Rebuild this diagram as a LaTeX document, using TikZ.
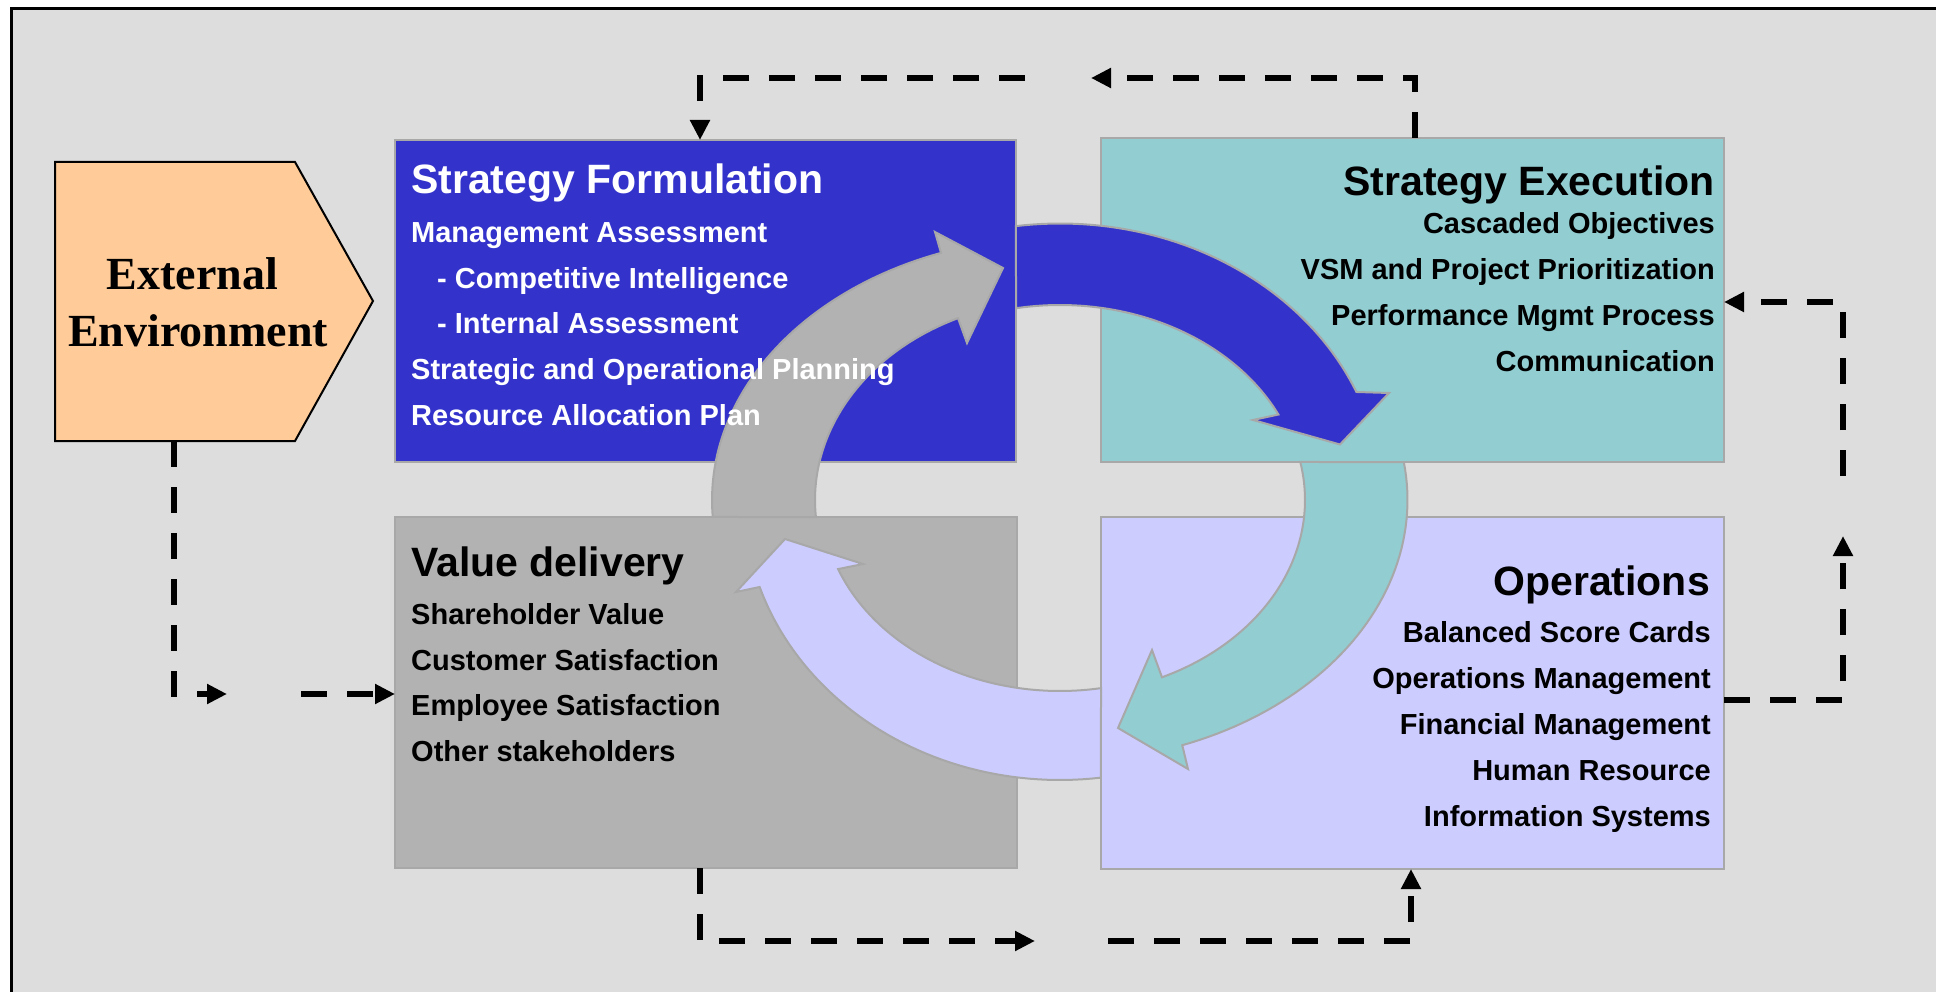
\documentclass[tikz,border=0pt]{standalone}
\usepackage{fontspec}
\setmainfont{Liberation Sans}
\newfontfamily\serifbold{Liberation Serif}
\usetikzlibrary{arrows.meta}
\definecolor{bgc}{RGB}{221,221,221}
\definecolor{peach}{RGB}{255,204,153}
\definecolor{sfblue}{RGB}{51,51,204}
\definecolor{seteal}{RGB}{146,205,209}
\definecolor{vdgrey}{RGB}{178,178,178}
\definecolor{oplav}{RGB}{204,204,255}
\definecolor{edgegrey}{RGB}{168,168,168}
\begin{document}
\begin{tikzpicture}[x=1pt,y=-1pt,
  quad/.style={draw=edgegrey, line width=2pt, rectangle, inner sep=0pt, outer sep=0pt, anchor=north west},
  ttl/.style={font=\fontsize{41}{41}\selectfont\bfseries, inner sep=0pt},
  itm/.style={font=\fontsize{29}{29}\selectfont\bfseries, inner sep=0pt},
  extt/.style={font=\serifbold\fontsize{46}{46}\selectfont\bfseries, inner sep=0pt, anchor=base},
  flow/.style={draw=black, line width=5.5pt, dash pattern=on 26pt off 20pt, -{Triangle[length=20pt,width=19pt]}},
  ring/.style={draw=edgegrey, line width=2pt, line join=miter},
]
\useasboundingbox (0,0) rectangle (1936,992);
\fill[white] (0,0) rectangle (1936,992);
\draw[fill=bgc, line width=3pt] (11.3,8.5) rectangle (1990,1040);

% External environment pentagon
\filldraw[fill=peach, draw=black, line width=2pt] (55,162) -- (295,162) -- (373,301) -- (295,441) -- (55,441) -- cycle;
\coordinate (extb) at (174,441);
\node[extt] (ext1) at (192.5,290) {External};
\node[extt] (ext2) at (198,347) {Environment};

% quadrant boxes
\node[quad, fill=sfblue, minimum width=621pt, minimum height=322pt] (sf) at (395,140) {};
\node[quad, fill=seteal, minimum width=623pt, minimum height=324pt] (se) at (1101,138) {};
\node[quad, fill=vdgrey, minimum width=622pt, minimum height=351pt] (vd) at (395,517) {};
\node[quad, fill=oplav, minimum width=623pt, minimum height=352pt] (op) at (1101,517) {};

% curved arrows (clockwise cycle)
\filldraw[ring, fill=sfblue]
  plot[domain=262.1:337, samples=50] ({1060+322*cos(\x)},{500+276.5*sin(\x)})
  -- (1389,393) -- (1340,444.5) -- (1253,420)
  -- plot[domain=334:259.6, samples=50] ({1060+243*cos(\x)},{500+195*sin(\x)}) -- cycle;
\filldraw[ring, fill=seteal]
  plot[domain=-8.34:69.4, samples=50] ({1060+347.5*cos(\x)},{500+262*sin(\x)})
  -- (1188,769) -- (1118,728) -- (1152,650)
  -- plot[domain=65.4:-11.24, samples=50] ({1060+245*cos(\x)},{500+195*sin(\x)}) -- cycle;
\filldraw[ring, fill=oplav]
  plot[domain=82.55:161.9, samples=50] ({1060+316*cos(\x)},{500+280*sin(\x)})
  -- (736,592) -- (785,539) -- (863,564)
  -- plot[domain=158.8:80.08, samples=50] ({1060+238*cos(\x)},{500+191*sin(\x)}) -- cycle;
\filldraw[ring, fill=vdgrey]
  plot[domain=176.3:250, samples=50] ({1060+348*cos(\x)},{500+263*sin(\x)})
  -- (935,232) -- (1003,268) -- (967,343)
  -- plot[domain=245.4:175.1, samples=50] ({1060+245*cos(\x)},{500+200*sin(\x)}) -- cycle;

% dashed feedback connectors
\coordinate (m1a) at (227,694);
\coordinate (m1b) at (301,694);
\draw[flow] (extb) |- (m1a);
\draw[flow] (m1b) -- (vd.west |- m1b);

\coordinate (tc) at (1415,78);
\coordinate (m2a) at (1091,78);
\coordinate (m2b) at (1025,78);
\coordinate (tl) at (700,78);
\draw[flow] (se.north -| tc) |- (m2a);
\draw[flow] (m2b) -| (sf.north -| tl);

\coordinate (bx) at (700,941);
\coordinate (m3a) at (1035,941);
\coordinate (m3b) at (1108,941);
\coordinate (bx2) at (1411,941);
\draw[flow] (vd.south -| bx) |- (m3a);
\draw[flow] (m3b) -| (op.south -| bx2);

\coordinate (rx) at (1843,700);
\coordinate (m4a) at (1843,536);
\coordinate (m4b) at (1843,476);
\coordinate (ry) at (1843,302);
\draw[flow] (op.east |- rx) -| (m4a);
\draw[flow] (m4b) |- (se.east |- ry);

% Strategy Formulation text
\node[ttl, text=white, anchor=base west] (sf0) at (411,194) {Strategy Formulation};
\node[itm, text=white, anchor=base west] (sf1) at (411,242.6) {Management Assessment};
\node[itm, text=white, anchor=base west] (sf2) at (437,288.3) {- Competitive Intelligence};
\node[itm, text=white, anchor=base west] (sf3) at (437,334) {- Internal Assessment};
\node[itm, text=white, anchor=base west] (sf4) at (411,379.7) {Strategic and Operational Planning};
\node[itm, text=white, anchor=base west] (sf5) at (411,425.4) {Resource Allocation Plan};

% Strategy Execution text
\node[ttl, anchor=base east] (se0) at (1715,196) {Strategy Execution};
\node[itm, anchor=base east] (se1) at (1715,234) {Cascaded Objectives};
\node[itm, anchor=base east] (se2) at (1715,279.7) {VSM and Project Prioritization};
\node[itm, anchor=base east] (se3) at (1715,325.4) {Performance Mgmt Process};
\node[itm, anchor=base east] (se4) at (1715,371.1) {Communication};

% Value delivery text
\node[ttl, anchor=base west] (vd0) at (411,576.6) {Value delivery};
\node[itm, anchor=base west] (vd1) at (411,624) {Shareholder Value};
\node[itm, anchor=base west] (vd2) at (411,670) {Customer Satisfaction};
\node[itm, anchor=base west] (vd3) at (411,715.5) {Employee Satisfaction};
\node[itm, anchor=base west] (vd4) at (411,761) {Other stakeholders};

% Operations text
\node[ttl, anchor=base east] (op0) at (1710,595) {Operations};
\node[itm, anchor=base east] (op1) at (1711,642.7) {Balanced Score Cards};
\node[itm, anchor=base east] (op2) at (1711,688.4) {Operations Management};
\node[itm, anchor=base east] (op3) at (1711,734.6) {Financial Management};
\node[itm, anchor=base east] (op4) at (1711,780.8) {Human Resource};
\node[itm, anchor=base east] (op5) at (1711,826.6) {Information Systems};
\end{tikzpicture}
\end{document}
